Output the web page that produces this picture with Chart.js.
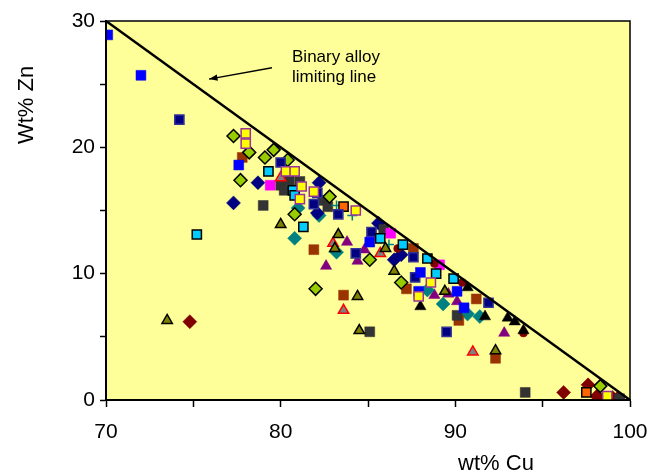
<!DOCTYPE html>
<html>
<head>
<meta charset="utf-8">
<script src="https://cdn.jsdelivr.net/npm/chart.js@4.4.1/dist/chart.umd.min.js"></script>
<style>
  html,body{margin:0;padding:0;background:#fff;}
  #wrap{width:650px;height:474px;position:relative;}
</style>
</head>
<body>
<div id="wrap"><canvas id="c"></canvas></div>
<script>
// ---- axis setup ----
const xTickValues = [70, 75, 80, 85, 90, 95, 100];
const xLabeledTicks = [70, 80, 90, 100];
const yTickValues = [0, 5, 10, 15, 20, 25, 30];
const yLabeledTicks = [0, 10, 20, 30];
const xTitle = 'wt% Cu';
const yTitle = 'Wt% Zn';

// Binary alloy limiting line (Cu + Zn = 100)
const limitLine = [[70, 30], [100, 0]];
const annotationLines = ['Binary alloy', 'limiting line'];
const annotationTextAt = [80.65, 27.15];
const arrowFrom = [79.5, 26.3];
const arrowTo = [75.9, 25.4];

// ---- series (wt% Cu, wt% Zn) ----
const blueSquares = [[70.1,28.9],[72.0,25.7],[77.6,18.6],[85.1,12.5],[88.0,10.1],[87.9,8.6],[90.1,8.6],[90.5,7.3]];
const navySquares = [[74.2,22.2],[80.0,18.8],[82.1,16.4],[81.9,15.5],[83.3,14.7],[85.2,13.3],[84.3,11.6],[87.6,11.3],[87.7,9.7],[91.9,7.7],[89.5,5.4]];
const cyanSquares = [[75.2,13.1],[79.3,18.1],[80.7,16.6],[80.8,16.2],[81.3,13.7],[85.7,12.8],[87.0,12.3],[88.4,11.2],[88.9,10.0],[89.9,9.6]];
const yellowSquares = [[78.0,21.1],[78.0,20.3],[80.3,18.1],[80.8,18.1],[81.2,16.9],[81.1,15.9],[81.9,16.5],[84.3,15.0],[88.6,9.3],[87.9,8.2],[98.7,0.3]];
const greySquares = [[79.0,15.4],[80.0,17.0],[80.5,17.4],[81.1,17.3],[80.2,16.6],[82.4,15.8],[82.7,15.3],[85.9,13.5],[90.1,6.7],[85.1,5.4],[94.0,0.6],[99.4,0.1]];
const brownSquares = [[77.8,19.2],[81.9,11.9],[83.6,8.3],[87.6,12.0],[87.2,8.8],[91.2,8.0],[90.2,6.3],[92.3,3.3]];
const orangeSquares = [[83.6,15.3],[97.5,0.6]];
const magentaSquares = [[79.4,17.0],[86.3,13.2],[89.1,10.7]];
const navyDiamonds = [[77.3,15.6],[78.7,17.2],[82.2,17.2],[82.1,14.8],[85.6,14.0],[86.5,11.1],[86.9,11.5]];
const greenDiamonds = [[77.3,20.9],[78.2,19.6],[79.6,19.8],[79.1,19.2],[80.4,19.0],[77.7,17.4],[80.8,14.7],[82.8,16.1],[82.0,8.8],[85.1,11.1],[86.9,9.3],[98.3,1.1]];
const tealDiamonds = [[81.0,15.2],[82.2,14.6],[80.8,12.8],[83.2,11.7],[88.4,8.7],[89.3,7.6],[90.7,6.8],[91.4,6.6]];
const maroonDiamonds = [[74.8,6.2],[96.2,0.6],[97.6,1.2],[98.1,0.3],[98.5,0.15],[99.0,0.2],[99.3,0.15]];
const oliveTriangles = [[73.5,6.3],[80.0,13.9],[83.3,13.1],[83.1,12.0],[86.0,12.0],[86.5,10.2],[84.4,8.2],[84.5,5.5],[89.4,8.6],[92.3,3.9]];
const purpleTriangles = [[82.6,10.6],[83.8,12.5],[84.8,11.9],[84.4,11.0],[88.8,8.3],[89.6,8.4],[90.1,7.8],[92.8,5.3]];
const redEdgeTriangles = [[80.0,17.6],[83.0,12.4],[85.7,11.6],[83.6,7.1],[91.0,3.8]];
const blackTriangles = [[88.0,7.4],[90.7,8.9],[91.7,6.6],[93.0,6.5],[93.4,6.2],[93.9,5.5]];
const maroonCircles = [[86.7,12.0],[88.8,10.8],[90.4,9.3],[93.9,5.3]];
const tealCrosses = [[83.2,15.4],[84.1,14.6],[86.2,12.3]];

const toXY = arr => arr.map(p => ({x: p[0], y: p[1]}));

function series(data, style, fill, stroke, bw, r) {
  return {
    type: 'scatter',
    data: toXY(data),
    pointStyle: style,
    backgroundColor: fill,
    borderColor: stroke,
    pointBackgroundColor: fill,
    pointBorderColor: stroke,
    pointBorderWidth: bw,
    pointRadius: r,
    pointHoverRadius: r,
    order: 2
  };
}

const datasets = [
  {
    type: 'line',
    data: toXY(limitLine),
    borderColor: '#000',
    borderWidth: 2.5,
    pointRadius: 0,
    fill: false,
    order: 0
  },
  series(yellowSquares, 'rect', '#FFFF00', '#993399', 1.5, 6.5),
  series(cyanSquares, 'rect', '#00CCFF', '#000000', 1.5, 6.5),
  series(blueSquares, 'rect', '#0000FF', '#0000FF', 0.5, 7),
  series(navySquares, 'rect', '#000080', '#333399', 1.5, 6.5),
  series(orangeSquares, 'rect', '#FF6600', '#000000', 1.5, 6.5),
  series(greenDiamonds, 'rectRot', '#99CC00', '#000000', 1.5, 6.5),
  series(oliveTriangles, 'triangle', '#808000', '#000000', 1.5, 6),
  series(redEdgeTriangles, 'triangle', '#808080', '#FF0000', 1.5, 6),
  series(blackTriangles, 'triangle', '#000000', '#000000', 0.5, 6.5),
  series(maroonCircles, 'circle', '#800000', '#800000', 0.5, 4),
  series(tealCrosses, 'cross', '#008080', '#008080', 1.5, 5),
  series(magentaSquares, 'rect', '#FF00FF', '#FF00FF', 0.5, 7),
  series(greySquares, 'rect', '#333333', '#333333', 0.5, 7),
  series(brownSquares, 'rect', '#993300', '#993300', 0.5, 7),
  series(navyDiamonds, 'rectRot', '#000080', '#000080', 0.5, 7),
  series(tealDiamonds, 'rectRot', '#008080', '#008080', 0.5, 7),
  series(maroonDiamonds, 'rectRot', '#800000', '#800000', 0.5, 7),
  series(purpleTriangles, 'triangle', '#800080', '#800080', 0.5, 6.5)
];

const FONT = "'Liberation Sans', Arial, sans-serif";

const decor = {
  id: 'decor',
  beforeDraw(chart) {
    const {ctx, chartArea: a} = chart;
    ctx.save();
    ctx.fillStyle = '#FFFF99';
    ctx.fillRect(a.left, a.top, a.right - a.left, a.bottom - a.top);
    ctx.restore();
  },
  afterDraw(chart) {
    const {ctx, chartArea: a, scales} = chart;
    const xs = scales.x, ys = scales.y;
    ctx.save();
    // plot frame
    ctx.strokeStyle = '#000';
    ctx.lineWidth = 1.5;
    ctx.strokeRect(a.left, a.top, a.right - a.left, a.bottom - a.top);
    // annotation text
    ctx.fillStyle = '#000';
    ctx.font = '17px ' + FONT;
    ctx.textAlign = 'left';
    ctx.textBaseline = 'middle';
    const tx = xs.getPixelForValue(annotationTextAt[0]);
    const ty = ys.getPixelForValue(annotationTextAt[1]);
    annotationLines.forEach((t, i) => ctx.fillText(t, tx, ty + i * 20));
    // arrow
    const x1 = xs.getPixelForValue(arrowFrom[0]), y1 = ys.getPixelForValue(arrowFrom[1]);
    const x2 = xs.getPixelForValue(arrowTo[0]), y2 = ys.getPixelForValue(arrowTo[1]);
    ctx.lineWidth = 1.5;
    ctx.beginPath(); ctx.moveTo(x1, y1); ctx.lineTo(x2, y2); ctx.stroke();
    const ang = Math.atan2(y2 - y1, x2 - x1);
    ctx.beginPath();
    ctx.moveTo(x2, y2);
    ctx.lineTo(x2 - 9 * Math.cos(ang - 0.35), y2 - 9 * Math.sin(ang - 0.35));
    ctx.lineTo(x2 - 9 * Math.cos(ang + 0.35), y2 - 9 * Math.sin(ang + 0.35));
    ctx.closePath(); ctx.fill();
    // axis titles
    ctx.font = '22px ' + FONT;
    ctx.textAlign = 'center';
    ctx.textBaseline = 'alphabetic';
    ctx.fillText(xTitle, 496, 470);
    ctx.translate(33, 105);
    ctx.rotate(-Math.PI / 2);
    ctx.fillText(yTitle, 0, 0);
    ctx.restore();
  }
};

new Chart(document.getElementById('c'), {
  data: { datasets },
  options: {
    responsive: true,
    maintainAspectRatio: false,
    animation: false,
    layout: { padding: { left: 0, right: 20, top: 21, bottom: 0 } },
    plugins: { legend: { display: false }, tooltip: { enabled: false } },
    scales: {
      x: {
        type: 'linear',
        min: 70, max: 100,
        afterFit: s => { s.height = 74; s.paddingRight = 0; s.paddingLeft = 0; },
        afterBuildTicks: s => { s.ticks = xTickValues.map(v => ({value: v})); },
        ticks: {
          color: '#000',
          font: { family: FONT, size: 21 },
          padding: 13,
          maxRotation: 0,
          autoSkip: false,
          callback: v => xLabeledTicks.includes(v) ? String(v) : ''
        },
        grid: { drawOnChartArea: false, drawTicks: true, tickLength: 7, color: '#000', tickWidth: 1.5 },
        border: { display: true, color: '#000', width: 2 }
      },
      y: {
        type: 'linear',
        min: 0, max: 30,
        afterFit: s => { s.width = 106; s.paddingTop = 0; s.paddingBottom = 0; },
        afterBuildTicks: s => { s.ticks = yTickValues.map(v => ({value: v})); },
        ticks: {
          color: '#000',
          font: { family: FONT, size: 21 },
          padding: 5,
          autoSkip: false,
          callback: v => yLabeledTicks.includes(v) ? String(v) : ''
        },
        grid: { drawOnChartArea: false, drawTicks: true, tickLength: 6, color: '#000', tickWidth: 1.5 },
        border: { display: true, color: '#000', width: 2 }
      }
    }
  },
  plugins: [decor]
});
</script>
</body>
</html>
